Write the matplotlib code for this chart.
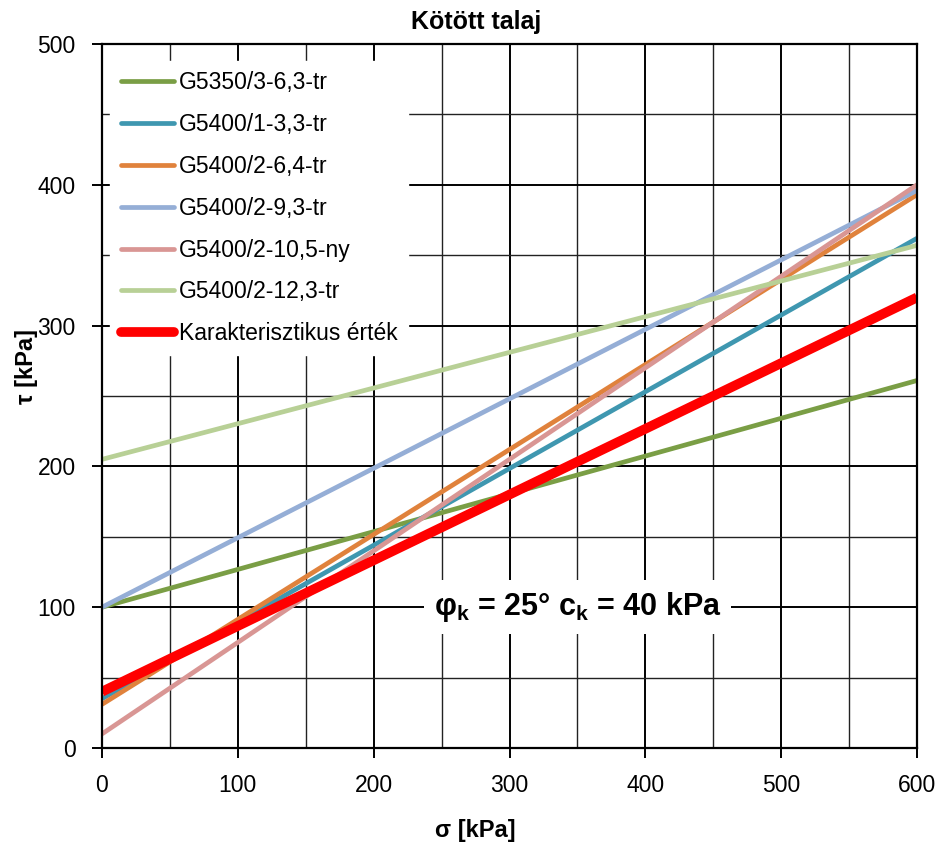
import matplotlib
matplotlib.use("Agg")
import matplotlib.pyplot as plt
import numpy as np

plt.rcParams['font.family'] = ['Liberation Sans', 'DejaVu Sans']
plt.rcParams['mathtext.fontset'] = 'custom'
plt.rcParams['mathtext.rm'] = 'Liberation Sans'
plt.rcParams['mathtext.bf'] = 'Liberation Sans:bold'
plt.rcParams['mathtext.it'] = 'Liberation Sans:italic'

sigma = [0, 600]
series_names = ["G5350/3-6,3-tr", "G5400/1-3,3-tr", "G5400/2-6,4-tr",
                "G5400/2-9,3-tr", "G5400/2-10,5-ny", "G5400/2-12,3-tr",
                "Karakterisztikus érték"]
tau_start = [100, 35, 31, 100, 10, 205, 40]
tau_end = [261, 362, 393, 396, 400, 357, 320]
colors = ["#7A9E45", "#3F97B0", "#E0823C", "#95AED6", "#D99694", "#B8D096", "#FF0000"]
widths = [3.4, 3.4, 3.4, 3.4, 3.4, 3.4, 7.0]

x_ticks = [0, 100, 200, 300, 400, 500, 600]
y_ticks = [0, 100, 200, 300, 400, 500]

fig = plt.figure(figsize=(9.43, 8.5), dpi=100)
ax = fig.add_axes([102/943, 1-748/850, (917-102)/943, (748-44)/850])

for i in range(len(series_names)):
    ax.plot(sigma, [tau_start[i], tau_end[i]], color=colors[i], lw=widths[i],
            label=series_names[i], solid_capstyle='butt', zorder=3 + (1 if i == 6 else 0))

ax.set_xlim(0, 600)
ax.set_ylim(0, 500)
ax.set_xticks(x_ticks)
ax.set_yticks(y_ticks)
ax.set_xticks(np.arange(0, 601, 50), minor=True)
ax.set_yticks(np.arange(0, 501, 50), minor=True)
ax.grid(which='major', color='black', lw=1.4, zorder=1)
ax.grid(which='minor', color='#222222', lw=1.0, zorder=1)
ax.tick_params(which='major', direction='out', length=7, width=1.4, labelsize=16.5, pad=12)
ax.tick_params(which='minor', length=0)
for s in ax.spines.values():
    s.set_linewidth(1.6)
    s.set_color('black')
    s.set_zorder(6)

leg = ax.legend(loc='upper left', bbox_to_anchor=(-0.004, 0.992), frameon=True,
                fontsize=16.5, handlelength=2.35, handletextpad=0.2,
                labelspacing=0.82, borderpad=0.45, fancybox=False)
leg.get_frame().set_facecolor('white')
leg.get_frame().set_edgecolor('white')
leg.get_frame().set_alpha(1)
leg.set_zorder(5)
for h in leg.get_lines():
    h.set_solid_capstyle('round')

ax.text(350, 100, r"$\mathbf{\varphi_k}$ = 25° $\mathbf{c_k}$ = 40 kPa", fontsize=22,
        fontweight='bold', ha='center', va='center', zorder=5,
        bbox=dict(facecolor='white', edgecolor='none', pad=7))

fig.text(476/943, 1-22/850, "Kötött talaj", fontsize=18, fontweight='bold',
         ha='center', va='center')
fig.text(475/943, 1-830/850, "σ [kPa]", fontsize=17, fontweight='bold',
         ha='center', va='center')
fig.text(27/943, 1-366/850, "τ [kPa]", fontsize=17, fontweight='bold',
         ha='center', va='center', rotation=90)

fig.savefig("out.png", dpi=100)
